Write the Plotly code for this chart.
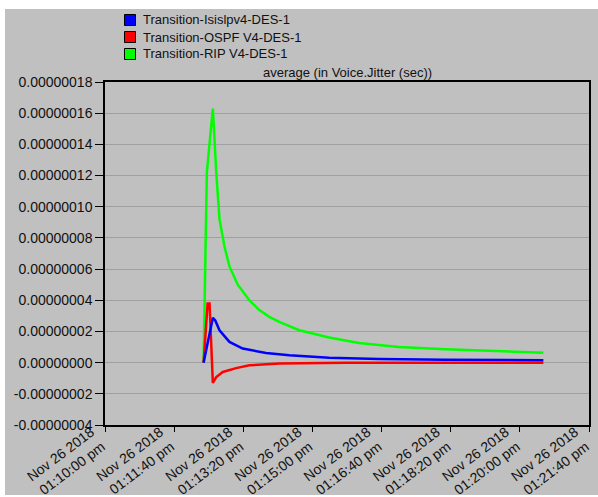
import plotly.graph_objects as go

# time offsets in seconds after Nov 26 2018 01:10:00 pm
green_t = [142.6, 147.3, 156.0, 160.9, 165.6, 172.8, 180.0, 192.0, 208.8, 223.2, 237.6, 252.0, 280.9, 324.1, 367.3, 424.9, 492.1, 564.2, 634.0]
green_v = [0.0, 1.22e-7, 1.63e-7, 1.22e-7, 9.2e-8, 7.45e-8, 6.17e-8, 5.0e-8, 4.0e-8, 3.37e-8, 2.94e-8, 2.62e-8, 2.08e-8, 1.61e-8, 1.26e-8, 1.0e-8, 8.6e-9, 7.3e-9, 6.4e-9]

blue_t = [142.6, 156.0, 159.5, 165.6, 180.0, 199.2, 232.9, 266.5, 324.1, 396.1, 492.1, 634.0]
blue_v = [0.0, 2.88e-8, 2.7e-8, 2.08e-8, 1.33e-8, 9.0e-9, 6.2e-9, 4.7e-9, 3.2e-9, 2.3e-9, 1.9e-9, 1.5e-9]

red_t = [142.6, 148.4, 151.2, 156.0, 160.9, 170.4, 189.6, 208.8, 252.0, 348.1, 634.0]
red_v = [0.0, 3.8e-8, 3.8e-8, -1.3e-8, -9.3e-9, -6.0e-9, -3.5e-9, -1.7e-9, -6.0e-10, -1.0e-10, 0.0]

names = ["Transition-Isislpv4-DES-1", "Transition-OSPF V4-DES-1", "Transition-RIP V4-DES-1"]
colors = ["#0000FF", "#FF0000", "#00FF00"]

x_tickvals = [0, 100, 200, 300, 400, 500, 600, 700]
x_ticktext = ["Nov 26 2018<br>01:10:00 pm", "Nov 26 2018<br>01:11:40 pm", "Nov 26 2018<br>01:13:20 pm",
              "Nov 26 2018<br>01:15:00 pm", "Nov 26 2018<br>01:16:40 pm", "Nov 26 2018<br>01:18:20 pm",
              "Nov 26 2018<br>01:20:00 pm", "Nov 26 2018<br>01:21:40 pm"]
y_tickvals = [-4e-8, -2e-8, 0, 2e-8, 4e-8, 6e-8, 8e-8, 1e-7, 1.2e-7, 1.4e-7, 1.6e-7, 1.8e-7]
y_ticktext = ["-0.00000004", "-0.00000002", "0.00000000", "0.00000002", "0.00000004", "0.00000006",
              "0.00000008", "0.00000010", "0.00000012", "0.00000014", "0.00000016", "0.00000018"]

FONT = "Liberation Sans, Arial"

fig = go.Figure()
series = [(green_t, green_v, 2), (red_t, red_v, 1), (blue_t, blue_v, 0)]
for t, v, i in series:
    fig.add_trace(go.Scatter(x=t, y=v, mode="lines", name=names[i],
                             line=dict(color=colors[i], width=2.5),
                             showlegend=False, hoverinfo="skip"))

W, H = 598, 497
L, R, T, B = 105, 9, 82, 72
pw, ph = W - L - R, H - T - B

def px(x):
    return (x - L) / pw

def py(y):
    return (H - B - y) / ph

# gray chart frame
fig.add_shape(type="rect", xref="paper", yref="paper", x0=px(5), x1=px(598), y0=py(495), y1=py(9),
              fillcolor="#C0C0C0", line=dict(width=0), layer="below")

# legend (square swatches + labels)
for i, nm in enumerate(names):
    yc = 20 + 17 * i
    fig.add_shape(type="rect", xref="paper", yref="paper",
                  x0=px(124.5), x1=px(135.5), y0=py(yc + 5.5), y1=py(yc - 5.5),
                  fillcolor=colors[i], line=dict(color="black", width=1))
    fig.add_annotation(text=nm, xref="paper", yref="paper", x=px(141), y=py(yc),
                       xanchor="left", yanchor="middle", showarrow=False,
                       font=dict(family=FONT, size=13, color="#111111"))

fig.add_annotation(text="average (in Voice.Jitter (sec))", xref="paper", yref="paper", x=0.5, y=1,
                   yanchor="bottom", showarrow=False, yshift=0,
                   font=dict(family=FONT, size=13, color="#111111"))

fig.update_layout(
    width=W, height=H,
    margin=dict(l=L, r=R, t=T, b=B, pad=0),
    paper_bgcolor="white",
    plot_bgcolor="#F0F0F0",
    font=dict(family=FONT, size=13, color="#111111"),
    showlegend=False,
    xaxis=dict(range=[0, 700], tickvals=x_tickvals, ticktext=x_ticktext, tickangle=-37,
               showgrid=False, zeroline=False, showline=True, linecolor="black", linewidth=1.5,
               mirror=True, ticks="outside", ticklen=5, tickcolor="black", automargin=False,
               ticklabelstandoff=-13, ticklabelshift=-14, tickfont=dict(size=14)),
    yaxis=dict(range=[-4e-8, 1.8e-7], tickvals=y_tickvals, ticktext=y_ticktext,
               showgrid=True, gridcolor="#A0A0A0", gridwidth=1, zeroline=False,
               showline=True, linecolor="black", linewidth=1.5, mirror=True, automargin=False,
               ticks="outside", ticklen=8, tickcolor="black", tickfont=dict(size=14)),
)

fig.write_html("out.html", config={"displayModeBar": False},
               post_script="document.body.style.margin='0';document.body.style.overflow='hidden';")
